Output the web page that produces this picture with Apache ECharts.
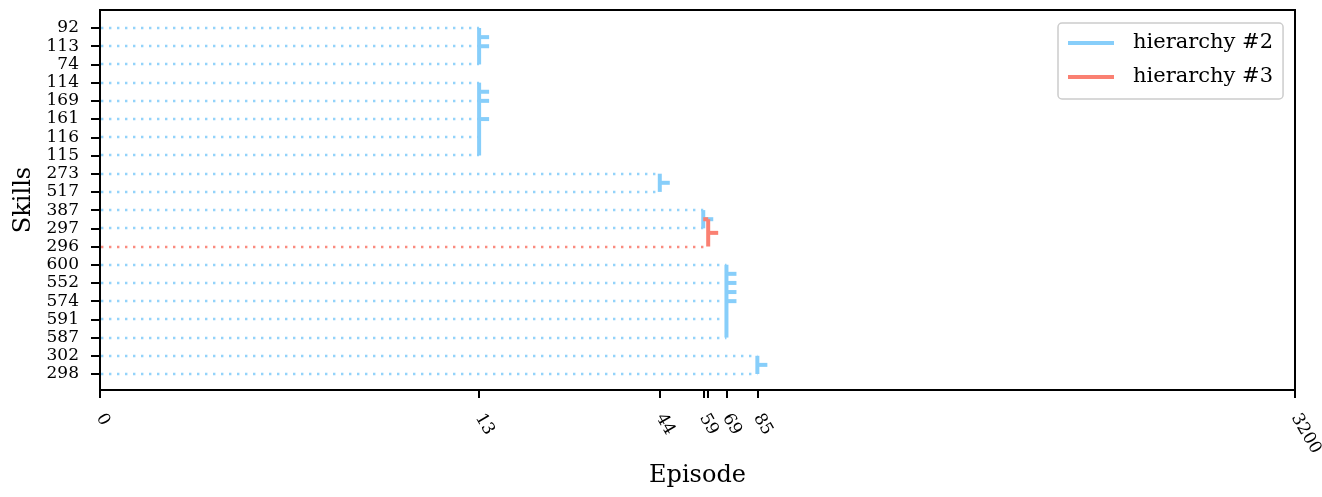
<!DOCTYPE html>
<html>
<head>
<meta charset="utf-8">
<script src="https://cdn.jsdelivr.net/npm/echarts@6/dist/echarts.min.js"></script>
<style>html,body{margin:0;padding:0;background:#fff}#c{width:1322px;height:497px}</style>
</head>
<body>
<div id="c"></div>
<script>
// ---- data ----
const skills = ['92','113','74','114','169','161','116','115','273','517','387','297','296','600','552','574','591','587','302','298'];
const skillEpisode = [13,13,13,13,13,13,13,13,44,44,59,59,61,69,69,69,69,69,85,85];
const skillHierarchy = [2,2,2,2,2,2,2,2,2,2,2,2,3,2,2,2,2,2,2,2];
// vertical merge spans: [episode, fromRow, toRow]
const h2Spans = [[13,0,2],[13,3,7],[44,8,9],[59,10,11],[69,13,17],[85,18,19]];
const h3Spans = [[61,10.5,12]];
// merge markers: [episode, row]
const h2Stubs = [[13,0.5],[13,1],[13,3.5],[13,4],[13,5],[44,8.5],[59,10.5],[69,13.5],[69,14],[69,14.5],[69,15],[85,18.5]];
const h3Stubs = [[61,11.25]];
// link between hierarchies: [fromEpisode, toEpisode, row]
const h3Links = [[59,61,10.5]];
const tickEpisodes = [0,13,44,59,61,69,85,3200];
const labelEpisodes = [0,13,44,59,69,85,3200];
const xMax = 3200;

// ---- scale (symmetric log, linear below 13) ----
const T = 13, LS = 1/(1-1/10);
function symlog(x){ return x <= T ? x*LS : T*(LS + Math.log10(x/T)); }
function invSymlog(v){ return v <= T*LS ? v/LS : T*Math.pow(10, v/T - LS); }

const BLUE = '#87CEFA', RED = '#FA8072';
const FONT = 'DejaVu Serif';

function dotted(color){
  return function(params, api){
    const a = api.coord([0, api.value(1)]);
    const b = api.coord([api.value(0), api.value(1)]);
    const y = Math.round(a[1]);
    return {type:'line', shape:{x1:Math.round(a[0])+1,y1:y,x2:b[0],y2:y},
      style:{stroke:color, lineWidth:2.4, lineDash:[2.4,5.6], opacity:0.9}};
  };
}
function span(color){
  return function(params, api){
    const a = api.coord([api.value(0), api.value(1)]);
    const b = api.coord([api.value(0), api.value(2)]);
    return {type:'line', shape:{x1:a[0],y1:a[1],x2:b[0],y2:b[1]},
      style:{stroke:color, lineWidth:4, lineCap:'butt'}};
  };
}
function stub(color){
  return function(params, api){
    const a = api.coord([api.value(0), api.value(1)]);
    return {type:'line', shape:{x1:a[0],y1:a[1],x2:a[0]+10,y2:a[1]},
      style:{stroke:color, lineWidth:4, lineCap:'butt'}};
  };
}
function link(color){
  return function(params, api){
    const a = api.coord([api.value(0), api.value(2)]);
    const b = api.coord([api.value(1), api.value(2)]);
    return {type:'line', shape:{x1:a[0],y1:a[1],x2:b[0],y2:b[1]},
      style:{stroke:color, lineWidth:4, lineCap:'butt'}};
  };
}

const dot2 = [], dot3 = [];
skills.forEach((s,i)=>{
  const d = [symlog(skillEpisode[i]), i];
  (skillHierarchy[i] === 3 ? dot3 : dot2).push(d);
});

const chart = echarts.init(document.getElementById('c'), null, {renderer:'canvas'});
chart.setOption({
  animation:false,
  textStyle:{fontFamily:FONT},
  grid:{left:100, right:27, top:10, bottom:107, show:true, borderColor:'#000', borderWidth:2, backgroundColor:'#fff',
        containLabel:false, outerBoundsMode:'none'},
  legend:{
    left:1058, top:23, orient:'vertical',
    backgroundColor:'#fff', borderColor:'#cccccc', borderWidth:1.5, borderRadius:4,
    padding:[9,10,11,10], itemGap:12, itemWidth:46, itemHeight:4,
    textStyle:{fontFamily:FONT, fontSize:21, color:'#000', padding:[0,0,0,14], lineHeight:22},
    data:[{name:'hierarchy #2', icon:'rect', itemStyle:{color:BLUE}},
          {name:'hierarchy #3', icon:'rect', itemStyle:{color:RED}}]
  },
  xAxis:{
    type:'value', min:0, max:symlog(xMax),
    name:'Episode', nameLocation:'middle', nameGap:72,
    nameTextStyle:{fontFamily:FONT, fontSize:24, color:'#000'},
    axisLine:{show:true, onZero:false, lineStyle:{color:'#000', width:2}},
    splitLine:{show:false},
    axisTick:{show:true, inside:false, length:8, lineStyle:{color:'#000', width:2}, customValues:tickEpisodes.map(symlog)},
    axisLabel:{show:true, rotate:-60, margin:25, fontFamily:FONT, fontSize:17, color:'#000',
      customValues:labelEpisodes.map(symlog),
      formatter:(v)=>String(Math.round(invSymlog(v)))}
  },
  yAxis:{
    type:'value', inverse:true, min:-0.99, max:19.88,
    name:'Skills', nameLocation:'middle', nameGap:62,
    nameTextStyle:{fontFamily:FONT, fontSize:24, color:'#000'},
    axisLine:{show:true, onZero:false, lineStyle:{color:'#000', width:2}},
    splitLine:{show:false},
    axisTick:{show:true, inside:false, length:9, lineStyle:{color:'#000', width:2}, customValues:skills.map((s,i)=>i)},
    axisLabel:{show:true, margin:21, fontFamily:FONT, fontSize:17, color:'#000',
      customValues:skills.map((s,i)=>i),
      formatter:(v)=>skills[Math.round(v)]}
  },
  series:[
    {name:'hierarchy #2', type:'custom', itemStyle:{color:BLUE}, renderItem:dotted(BLUE), encode:{x:0,y:1}, data:dot2, z:2},
    {name:'hierarchy #3', type:'custom', itemStyle:{color:RED}, renderItem:dotted(RED), encode:{x:0,y:1}, data:dot3, z:2},
    {name:'hierarchy #2', type:'custom', itemStyle:{color:BLUE}, renderItem:span(BLUE), encode:{x:0,y:[1,2]}, data:h2Spans.map(d=>[symlog(d[0]),d[1],d[2]]), z:3},
    {name:'hierarchy #2', type:'custom', itemStyle:{color:BLUE}, renderItem:stub(BLUE), encode:{x:0,y:1}, data:h2Stubs.map(d=>[symlog(d[0]),d[1]]), z:3},
    {name:'hierarchy #3', type:'custom', itemStyle:{color:RED}, renderItem:span(RED), encode:{x:0,y:[1,2]}, data:h3Spans.map(d=>[symlog(d[0]),d[1],d[2]]), z:4},
    {name:'hierarchy #3', type:'custom', itemStyle:{color:RED}, renderItem:stub(RED), encode:{x:0,y:1}, data:h3Stubs.map(d=>[symlog(d[0]),d[1]]), z:4},
    {name:'hierarchy #3', type:'custom', itemStyle:{color:RED}, renderItem:link(RED), encode:{x:[0,1],y:2}, data:h3Links.map(d=>[symlog(d[0]),symlog(d[1]),d[2]]), z:4}
  ]
});
</script>
</body>
</html>
